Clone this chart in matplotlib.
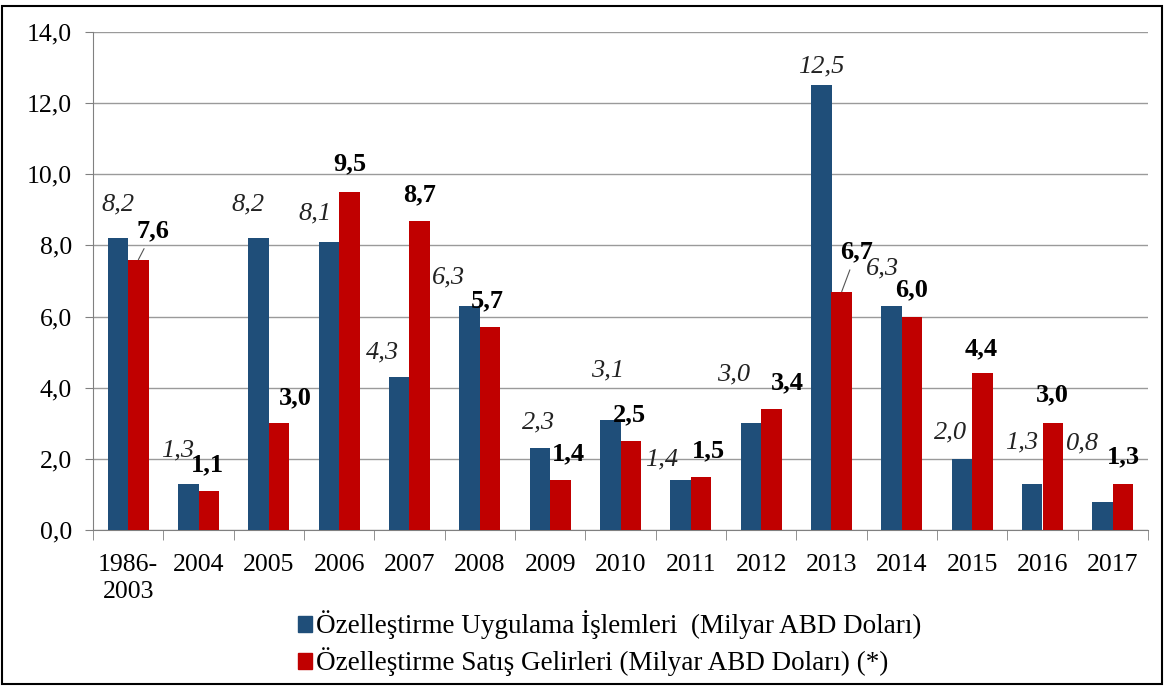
import matplotlib.pyplot as plt
from matplotlib.patches import Rectangle, Patch

plt.rcParams['font.family'] = ['Liberation Serif', 'DejaVu Serif']

years = ['1986-\n2003', '2004', '2005', '2006', '2007', '2008', '2009', '2010',
         '2011', '2012', '2013', '2014', '2015', '2016', '2017']
islemler = [8.2, 1.3, 8.2, 8.1, 4.3, 6.3, 2.3, 3.1, 1.4, 3.0, 12.5, 6.3, 2.0, 1.3, 0.8]
gelirler = [7.6, 1.1, 3.0, 9.5, 8.7, 5.7, 1.4, 2.5, 1.5, 3.4, 6.7, 6.0, 4.4, 3.0, 1.3]

# label offsets (pixels) from the top centre of each bar, as placed in the original
blue_off = [(0, 34), (-11, 33), (-11, 34), (-14, 28), (-17, 25), (-21, 28), (-1, 26), (-3, 49),
            (-19, 21), (-17, 49), (0, 19), (-9, 37), (-11, 26), (-11, 41), (-20, 58)]
red_off = [(15, 29), (-1, 26), (16, 25), (0, 28), (0, 26), (-3, 26), (8, 26), (-1, 26),
           (7, 26), (16, 26), (15, 40), (0, 27), (-1, 25), (0, 28), (0, 27)]
leader = [0, 10]

blue = '#1F4E79'
red = '#C00000'

fig = plt.figure(figsize=(11.73, 6.86), dpi=100)
ax = fig.add_axes([93 / 1173, 1 - 530 / 686, 1055 / 1173, 498 / 686])

x = list(range(len(years)))
w = 0.29
ax.bar([i - w / 2 for i in x], islemler, w, color=blue, zorder=3)
ax.bar([i + w / 2 for i in x], gelirler, w, color=red, zorder=3)

for i in x:
    ax.annotate(f'{islemler[i]:.1f}'.replace('.', ','), (i - w / 2, islemler[i]),
                xytext=blue_off[i], textcoords='offset pixels', ha='center', va='center',
                fontsize=19, style='italic', color='#222222', zorder=5)
    kw = {}
    if i in leader:
        kw['arrowprops'] = dict(arrowstyle='-', color='#555555', lw=0.8, shrinkA=3, shrinkB=0)
    ax.annotate(f'{gelirler[i]:.1f}'.replace('.', ','), (i + w / 2, gelirler[i]),
                xytext=red_off[i], textcoords='offset pixels', ha='center', va='center',
                fontsize=19, fontweight='bold', color='black', zorder=5, **kw)

ax.set_xlim(-0.5, len(years) - 0.5)
ax.set_ylim(0, 14)
ax.set_yticks([0, 2, 4, 6, 8, 10, 12, 14])
ax.set_yticklabels([f'{v:.1f}'.replace('.', ',') for v in [0, 2, 4, 6, 8, 10, 12, 14]])
ax.yaxis.grid(True, color='#9a9a9a', lw=1, zorder=0)
ax.set_xticks(x)
ax.set_xticklabels(years, fontsize=18.5, linespacing=1.3)
ax.set_xticks([i + 0.5 for i in range(-1, len(years))], minor=True)
ax.tick_params(axis='x', which='major', length=0, pad=17)
ax.tick_params(axis='x', which='minor', length=7, color='#808080')
ax.tick_params(axis='y', length=6, color='#808080', labelsize=18.5, pad=9)
for s in ['top', 'right']:
    ax.spines[s].set_visible(False)
ax.spines['left'].set_color('#808080')
ax.spines['bottom'].set_color('#808080')

handles = [Patch(color=blue), Patch(color=red)]
fig.legend(handles, ['Özelleştirme Uygulama İşlemleri  (Milyar ABD Doları)',
                     'Özelleştirme Satış Gelirleri (Milyar ABD Doları) (*)'],
           loc='upper left', bbox_to_anchor=(284 / 1173, 1 - 597 / 686), frameon=False,
           fontsize=19.5, handlelength=0.55, handleheight=0.55, handletextpad=0.15,
           labelspacing=0.3, borderpad=0)

fig.patches.append(Rectangle((2 / 1173, 2 / 686), 1160 / 1173, 678 / 686, transform=fig.transFigure,
                             fill=False, edgecolor='black', lw=1.5))

fig.savefig('out.png', dpi=100)
